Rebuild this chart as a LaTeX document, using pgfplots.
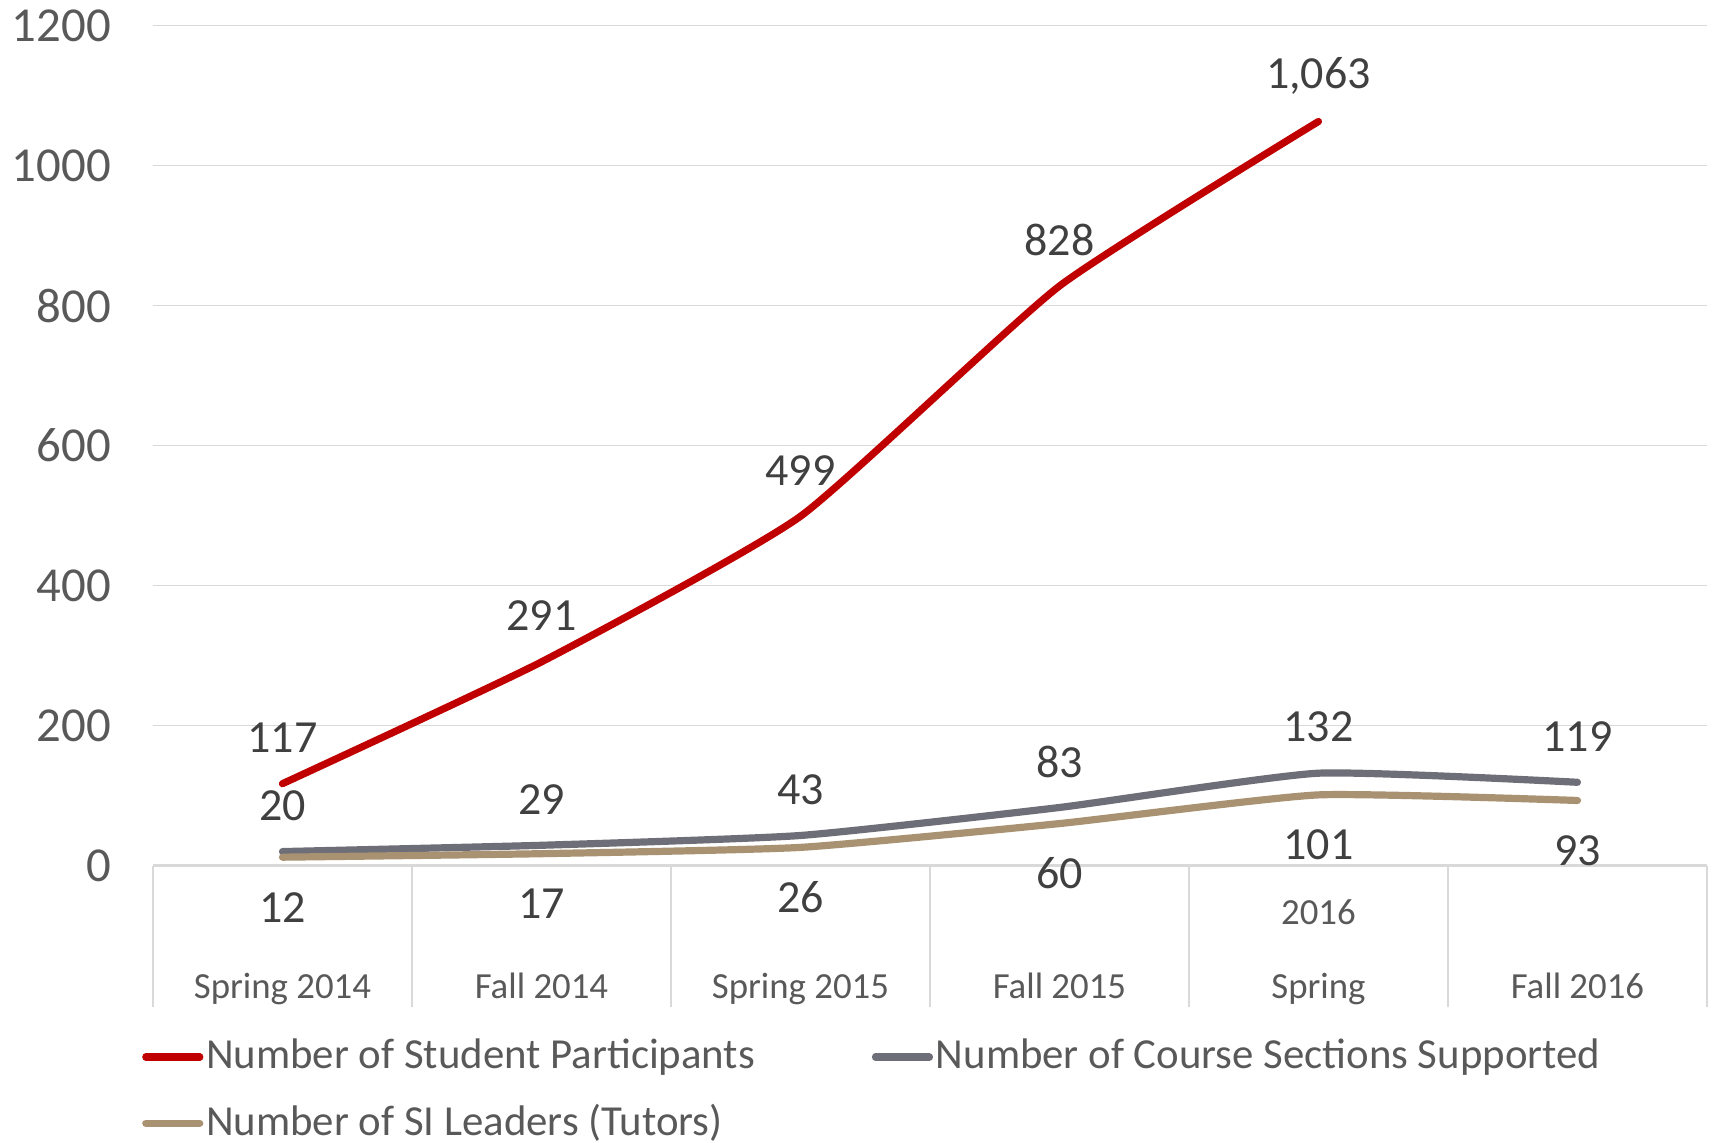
\documentclass[border=0pt]{standalone}
\usepackage{pgfplots}
\pgfplotsset{compat=1.18}
\usepackage{fontspec}
\setmainfont{Carlito}
\definecolor{cRed}{HTML}{C00000}
\definecolor{cGray}{HTML}{6E6E78}
\definecolor{cTan}{HTML}{A89272}
\definecolor{gridc}{HTML}{D9D9D9}
\definecolor{tickc}{HTML}{595959}
\definecolor{lblc}{HTML}{404040}
\begin{document}
\begin{tikzpicture}
\begin{axis}[
  scale only axis, width=388.5pt, height=210pt,
  xmin=-0.5, xmax=5.5, ymin=0, ymax=1200,
  ytick={0,200,...,1200},
  xtick={0,...,5},
  xticklabels={Spring 2014, Fall 2014, Spring 2015, Fall 2015, Spring, Fall 2016},
  extra x ticks={-0.5,0.5,1.5,2.5,3.5,4.5,5.5},
  extra x tick labels={},
  extra x tick style={major tick length=35.3pt, tick align=outside,
    tick style={gridc, line width=0.6pt}},
  axis x line*=bottom, axis y line*=left,
  y axis line style={draw=none},
  x axis line style={gridc, line width=0.6pt},
  major tick length=0pt,
  ymajorgrids, grid style={gridc, line width=0.45pt},
  yticklabel style={font=\fontsize{12.2}{13}\selectfont, text=tickc, anchor=east, xshift=-7pt},
  xticklabel style={font=\fontsize{9.2}{11}\selectfont, text=tickc, anchor=center,
    text height=1.6ex, text depth=0.45ex, yshift=-30.5pt},
  /pgf/number format/assume math mode=true,
  y tick label style={/pgf/number format/1000 sep={}},
  clip=false,
  nodes near coords,
  every node near coord/.append style={font=\fontsize{11.5}{13}\selectfont, text=lblc, anchor=center},
  legend columns=2,
  legend cell align=left,
  legend style={draw=none, fill=none, inner sep=0pt, at={(0,0)}, anchor=north west,
    xshift=-2.9pt, yshift=-42.5pt,
    font=\fontsize{10.7}{12.5}\selectfont, text=tickc,
    nodes={inner sep=0.7pt},
    row sep=6.0pt,
    /tikz/every even column/.append style={column sep=28.5pt}},
  legend image code/.code={\draw[#1, line width=1.8pt] (0pt,0pt) -- (13.5pt,0pt);},
  every axis plot/.append style={line width=1.8pt, line cap=round, line join=round},
]
% Number of Student Participants
\addplot[cRed, smooth, tension=0.3, every node near coord/.append style={yshift=11.5pt}]
  coordinates {(0,117) (1,291) (2,499) (3,828) (4,1063)};
\addlegendentry{Number of Student Participants}
% Number of Course Sections Supported
\addplot[cGray, smooth, tension=0.3, every node near coord/.append style={yshift=11.5pt}]
  coordinates {(0,20) (1,29) (2,43) (3,83) (4,132) (5,119)};
\addlegendentry{Number of Course Sections Supported}
% Number of SI Leaders (Tutors)
\addplot[cTan, smooth, tension=0.3, every node near coord/.append style={yshift=-12.5pt}]
  coordinates {(0,12) (1,17) (2,26) (3,60) (4,101) (5,93)};
\addlegendentry{Number of SI Leaders (Tutors)}
\node[font=\fontsize{9.2}{11}\selectfont, text=tickc] at ([yshift=-11.6pt]axis cs:4,0) {2016};
\end{axis}
\pgfresetboundingbox
\path (-38.25pt,-69.3pt) rectangle (391pt,216.4pt);
\end{tikzpicture}
\end{document}
